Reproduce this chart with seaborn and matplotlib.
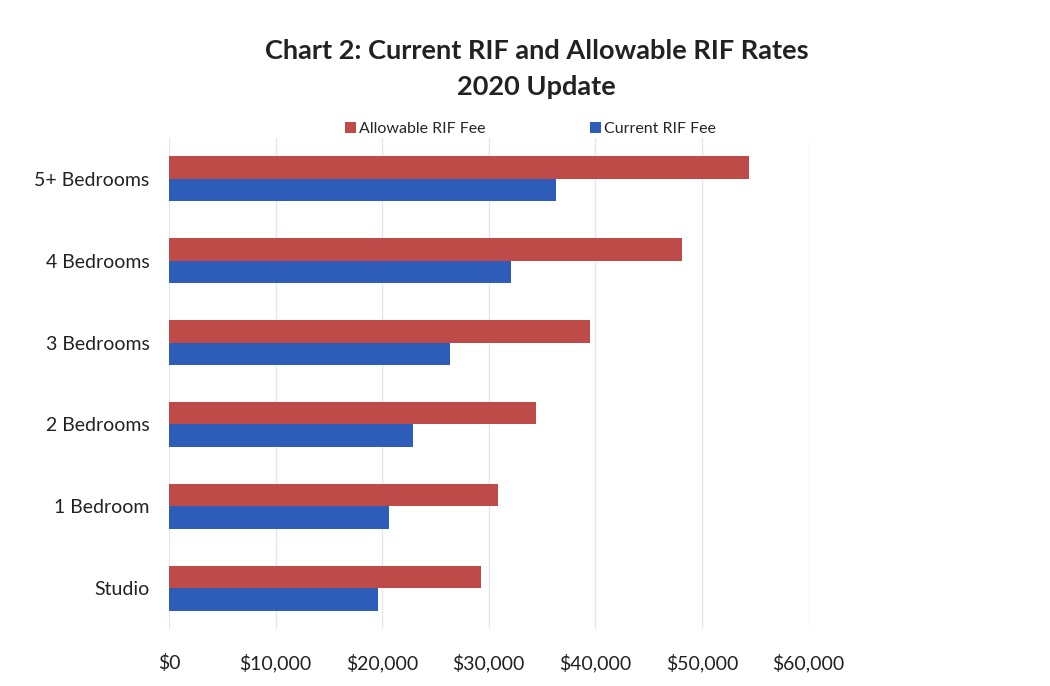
import pandas as pd
import matplotlib.pyplot as plt
import matplotlib.ticker as mticker
import seaborn as sns

# Values (dollars)
categories = ['5+ Bedrooms', '4 Bedrooms', '3 Bedrooms', '2 Bedrooms', '1 Bedroom', 'Studio']
allowable_fee = [54400, 48100, 39500, 34400, 30900, 29300]
current_fee = [36300, 32100, 26400, 22900, 20600, 19600]
series_names = ['Allowable RIF Fee', 'Current RIF Fee']
x_ticks = [0, 10000, 20000, 30000, 40000, 50000, 60000]

df = pd.DataFrame({
    'category': categories * 2,
    'fee': allowable_fee + current_fee,
    'series': [series_names[0]] * len(categories) + [series_names[1]] * len(categories),
})

sns.set_style('white')
plt.rcParams['font.family'] = ['Lato', 'DejaVu Sans']

fig = plt.figure(figsize=(10.5, 6.86), dpi=100)
ax = fig.add_axes([0.161, 0.083, 0.609, 0.716])

sns.barplot(data=df, y='category', x='fee', hue='series', hue_order=series_names,
            order=categories, orient='h', width=0.55, gap=0, linewidth=0,
            palette=['#BE4B48', '#2D5DB8'], saturation=1, ax=ax, zorder=3)

ax.set_xlim(0, 60000)
ax.set_xticks(x_ticks)
ax.xaxis.set_major_formatter(mticker.FuncFormatter(lambda v, p: f'${v:,.0f}'))
ax.grid(axis='x', color='#E4E8EE', linewidth=1, zorder=0)
ax.set_axisbelow(True)
ax.set_xlabel('')
ax.set_ylabel('')
for s in ax.spines.values():
    s.set_visible(False)
ax.tick_params(axis='x', labelsize=14, colors='#222222', pad=18, length=0)
ax.tick_params(axis='y', labelsize=14, colors='#222222', pad=14, length=0)

leg = ax.legend(loc='lower center', bbox_to_anchor=(0.565, 0.99), ncol=2, frameon=False,
                fontsize=11.5, handlelength=0.7, handleheight=0.7, handletextpad=0.2,
                columnspacing=6.5, borderaxespad=0.0)

fig.text(0.511, 0.9, 'Chart 2: Current RIF and Allowable RIF Rates\n2020 Update',
         ha='center', va='center', fontsize=19.5, fontweight='bold', color='#222222',
         linespacing=1.6)

plt.savefig('out.png', dpi=100)
plt.close()
